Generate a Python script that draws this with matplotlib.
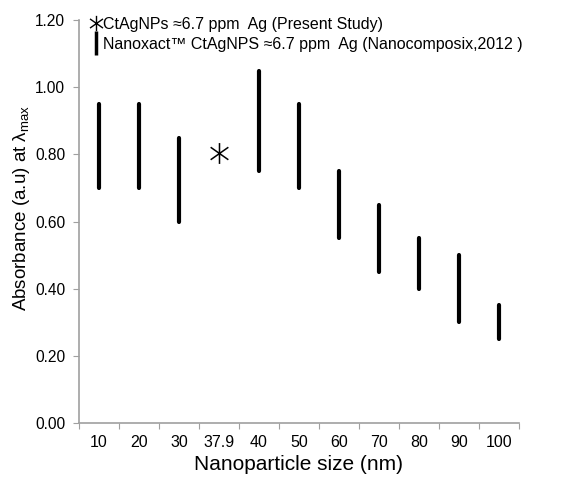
import matplotlib
matplotlib.use("Agg")
import matplotlib.pyplot as plt
from matplotlib.lines import Line2D
from matplotlib.path import Path

plt.rcParams['font.family'] = ['Liberation Sans', 'DejaVu Sans']
plt.rcParams['mathtext.fontset'] = 'custom'
plt.rcParams['mathtext.rm'] = 'Liberation Sans'
plt.rcParams['mathtext.it'] = 'Liberation Sans:italic'

sizes = ['10', '20', '30', '37.9', '40', '50', '60', '70', '80', '90', '100']
# Nanocomposix ranges (low, high)
range_sizes = ['10', '20', '30', '40', '50', '60', '70', '80', '90', '100']
range_low = [0.70, 0.70, 0.60, 0.75, 0.70, 0.55, 0.45, 0.40, 0.30, 0.25]
range_high = [0.95, 0.95, 0.85, 1.05, 0.95, 0.75, 0.65, 0.55, 0.50, 0.35]
study_size = '37.9'
study_abs = 0.805

# asterisk marker: vertical stroke plus an X
M, L = Path.MOVETO, Path.LINETO
star = Path([(0, -1), (0, 1), (-0.85, -0.6), (0.85, 0.6), (-0.85, 0.6), (0.85, -0.6)],
            [M, L, M, L, M, L])

fig = plt.figure(figsize=(5.87, 4.8), dpi=100)
ax = fig.add_axes([0.1346, 0.119, 0.749, 0.839])

xpos = {s: i for i, s in enumerate(sizes)}
rx = [xpos[s] for s in range_sizes]
ax.vlines(rx, range_low, range_high, color='black', lw=3, capstyle='round')
ax.plot([xpos[study_size]], [study_abs], marker=star, ms=15, mew=1.1,
        color='black', ls='none')

ax.set_xlim(-0.5, len(sizes) - 0.5)
ax.set_ylim(0, 1.2)
yt = [0, 0.2, 0.4, 0.6, 0.8, 1.0, 1.2]
ax.set_yticks(yt)
ax.set_yticklabels([f'{v:.2f}' for v in yt])
ax.set_xticks([i - 0.5 for i in range(len(sizes) + 1)])
ax.set_xticklabels([])
ax.set_xticks(range(len(sizes)), minor=True)
ax.set_xticklabels(sizes, minor=True)
ax.tick_params(axis='x', which='minor', length=0, pad=9, labelsize=11.5)
ax.tick_params(axis='x', which='major', length=4, color='#a0a0a0', direction='out')
ax.tick_params(axis='y', length=4, color='#a0a0a0', labelsize=11.2, pad=6)

for s in ['top', 'right']:
    ax.spines[s].set_visible(False)
for s in ['left', 'bottom']:
    ax.spines[s].set_color('#a0a0a0')
    ax.spines[s].set_linewidth(1.2)

ax.set_xlabel('Nanoparticle size (nm)', fontsize=15, labelpad=3)
ax.set_ylabel(r'Absorbance (a.u) at $\mathregular{\lambda_{max}}$', fontsize=13.5)
ax.yaxis.set_label_coords(-0.107, 0.533)

handles = [
    Line2D([], [], marker=star, ms=11, mew=1.0, color='black', ls='none'),
    Line2D([], [], marker='|', ms=17, mew=2.5, color='black', ls='none'),
]
labels = ['CtAgNPs \u22486.7 ppm  Ag (Present Study)',
          'Nanoxact\u2122 CtAgNPS \u22486.7 ppm  Ag (Nanocomposix,2012 )']
ax.legend(handles, labels, loc='upper left', bbox_to_anchor=(0.005, 1.032),
          frameon=False, fontsize=11.5, handlelength=0.6, handletextpad=0.15,
          labelspacing=0.3, borderaxespad=0.2)

fig.savefig('out.png', dpi=100)
